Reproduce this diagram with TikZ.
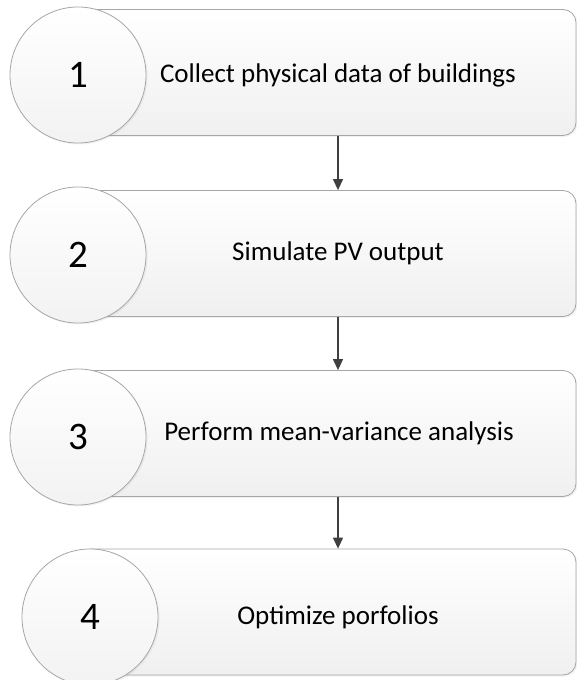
\documentclass[tikz,border=0pt]{standalone}
\usepackage{fontspec}
\setmainfont{Carlito}
\usetikzlibrary{arrows.meta,shadows}
\definecolor{edgegray}{HTML}{A6A6A6}
\definecolor{arrowgray}{HTML}{3F3F3F}
\tikzset{
  stepbox/.style={draw=edgegray, line width=0.8pt, rounded corners=13pt,
    top color=white, bottom color=black!6, minimum width=498pt, minimum height=126pt,
    inner sep=0pt, drop shadow={opacity=0.10, shadow xshift=1.5pt, shadow yshift=-1.5pt}},
  numcircle/.style={circle, draw=edgegray, line width=0.8pt, minimum size=136pt, inner sep=0pt,
    top color=white, bottom color=black!5,
    drop shadow={opacity=0.10, shadow xshift=1.5pt, shadow yshift=-1.5pt},
    font=\fontsize{39}{42}\selectfont},
  steptext/.style={font=\fontsize{27}{30}\selectfont, inner sep=0pt},
  flowarrow/.style={draw=arrowgray, line width=1.2pt, -{Triangle[width=10pt,length=11pt]}, fill=arrowgray}
}
\begin{document}
\begin{tikzpicture}[x=1pt,y=-1pt]
\useasboundingbox (0,0) rectangle (577,680);
\clip (0,0) rectangle (577,680);
% boxes
\node[stepbox] (b1) at (327,72.5) {};
\node[stepbox] (b2) at (327,253.5) {};
\node[stepbox] (b3) at (327,433.5) {};
\node[stepbox] (b4) at (327,612) {};
% circles
\node[numcircle] (c1) at (78,75) {1};
\node[numcircle] (c2) at (78,255) {2};
\node[numcircle] (c3) at (78,437) {3};
\node[numcircle] (c4) at (90,617) {4};
% texts
\node[steptext] (t1) at (338,75) {Collect physical data of buildings};
\node[steptext] (t2) at (338,253) {Simulate PV output};
\node[steptext] (t3) at (339,433) {Perform mean-variance analysis};
\node[steptext] (t4) at (338,617) {Optimize porfolios};
% arrows
\draw[flowarrow] (t1 |- b1.south) -- (t1 |- b2.north);
\draw[flowarrow] (t1 |- b2.south) -- (t1 |- b3.north);
\draw[flowarrow] (t1 |- b3.south) -- (t1 |- b4.north);
\end{tikzpicture}
\end{document}
